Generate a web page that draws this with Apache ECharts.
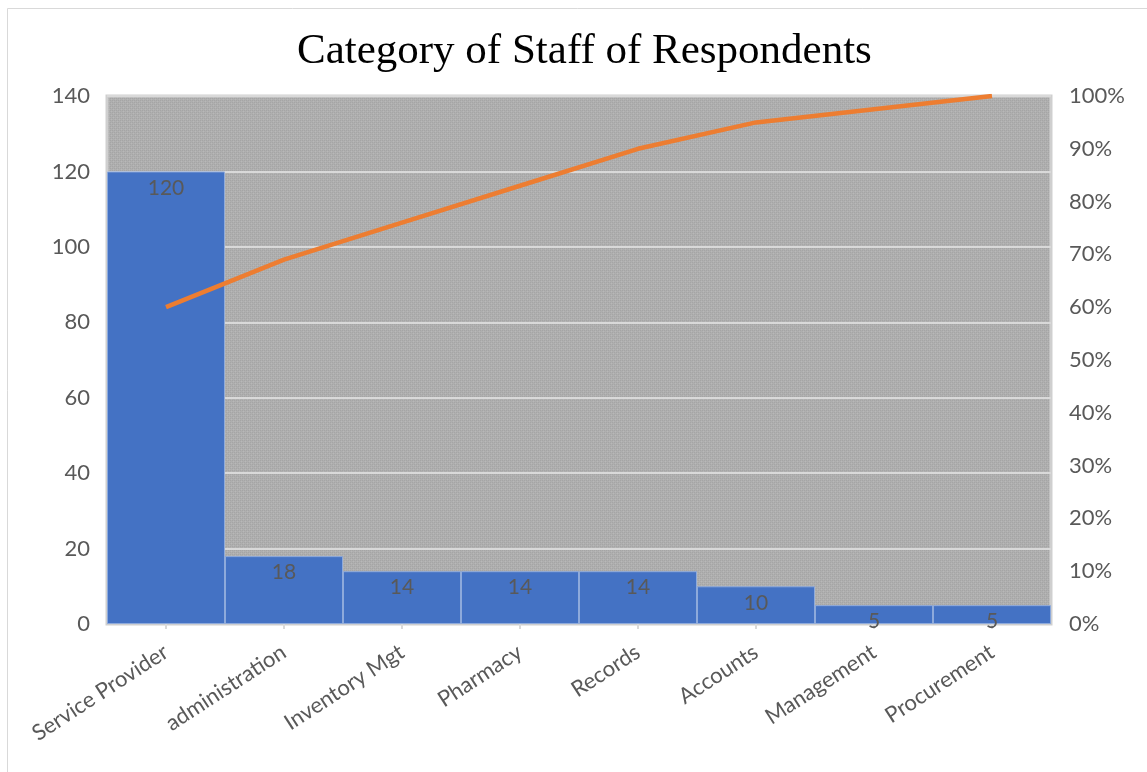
<!DOCTYPE html>
<html>
<head>
<meta charset="utf-8">
<script src="https://cdn.jsdelivr.net/npm/echarts@6/dist/echarts.min.js"></script>
<style>
  html, body { margin: 0; padding: 0; background: #ffffff; }
  #chart { width: 1147px; height: 772px; }
</style>
</head>
<body>
<div id="chart"></div>
<script>
// Staff categories of respondents (Pareto chart)
const categories = ['Service Provider', 'administration', 'Inventory Mgt', 'Pharmacy', 'Records', 'Accounts', 'Management', 'Procurement'];
const staffCounts = [120, 18, 14, 14, 14, 10, 5, 5];
const cumulativePercent = [60, 69, 76, 83, 90, 95, 97.5, 100];
const countTicks = [0, 20, 40, 60, 80, 100, 120, 140];
const percentTicks = [0, 10, 20, 30, 40, 50, 60, 70, 80, 90, 100];

// Fine dotted grey fill for the plot area
function makeTexture() {
  const c = document.createElement('canvas');
  c.width = 4; c.height = 4;
  const ctx = c.getContext('2d');
  ctx.fillStyle = '#afafaf';
  ctx.fillRect(0, 0, 4, 4);
  ctx.fillStyle = '#a5a5a5';
  ctx.fillRect(0, 0, 1, 1); ctx.fillRect(2, 2, 1, 1);
  ctx.fillRect(0, 2, 1, 1); ctx.fillRect(2, 0, 1, 1);
  ctx.fillStyle = '#b8b8b8';
  ctx.fillRect(1, 1, 1, 1); ctx.fillRect(3, 3, 1, 1);
  return c;
}

const labelFont = 'Lato, "Open Sans", sans-serif';
const chart = echarts.init(document.getElementById('chart'), null, { renderer: 'canvas' });

chart.setOption({
  animation: false,
  backgroundColor: '#ffffff',
  title: {
    text: 'Category of Staff of Respondents',
    left: 292,
    top: 25,
    textStyle: {
      fontFamily: '"Liberation Serif", "DejaVu Serif", serif',
      fontSize: 43,
      fontWeight: 'normal',
      color: '#000000'
    }
  },
  graphic: [{
    type: 'rect',
    shape: { x: 7.5, y: 8.5, width: 1160, height: 800 },
    style: { fill: 'none', stroke: '#d9d9d9', lineWidth: 1 },
    silent: true
  }],
  grid: {
    left: 107, right: 96, top: 96, bottom: 148,
    show: true,
    backgroundColor: { image: makeTexture(), repeat: 'repeat' },
    borderColor: '#cfcfcf',
    borderWidth: 3
  },
  xAxis: {
    type: 'category',
    data: categories,
    boundaryGap: true,
    axisLine: { show: true, lineStyle: { color: '#cfcfcf', width: 2 } },
    axisTick: { show: true, alignWithLabel: true, length: 5, lineStyle: { color: '#d9d9d9', width: 2 } },
    axisLabel: {
      rotate: 33,
      margin: 26,
      fontFamily: labelFont,
      fontSize: 22,
      color: '#595959'
    },
    splitLine: { show: false }
  },
  yAxis: [{
    type: 'value',
    min: 0, max: 140, interval: 20,
    axisLine: { show: false },
    axisTick: { show: false },
    axisLabel: {
      margin: 17,
      fontFamily: labelFont,
      fontSize: 22,
      color: '#595959',
      formatter: v => countTicks.includes(v) ? String(v) : ''
    },
    splitLine: { show: true, lineStyle: { color: '#d9d9d9', width: 2 } }
  }, {
    type: 'value',
    min: 0, max: 100, interval: 10,
    axisLine: { show: false },
    axisTick: { show: false },
    axisLabel: {
      margin: 18,
      fontFamily: labelFont,
      fontSize: 22,
      color: '#595959',
      formatter: v => percentTicks.includes(v) ? v + '%' : ''
    },
    splitLine: { show: false }
  }],
  series: [{
    type: 'bar',
    data: staffCounts,
    barWidth: '100%',
    barGap: '0%',
    barCategoryGap: '0%',
    itemStyle: { color: '#4472c4', borderColor: '#8eaadb', borderWidth: 1 },
    label: {
      show: true,
      position: 'insideTop',
      distance: 6,
      fontFamily: labelFont,
      fontSize: 21,
      color: '#595959'
    },
    z: 2
  }, {
    type: 'line',
    yAxisIndex: 1,
    data: cumulativePercent,
    symbol: 'none',
    lineStyle: { color: '#ed7d31', width: 4.5 },
    z: 3
  }]
});
</script>
</body>
</html>
